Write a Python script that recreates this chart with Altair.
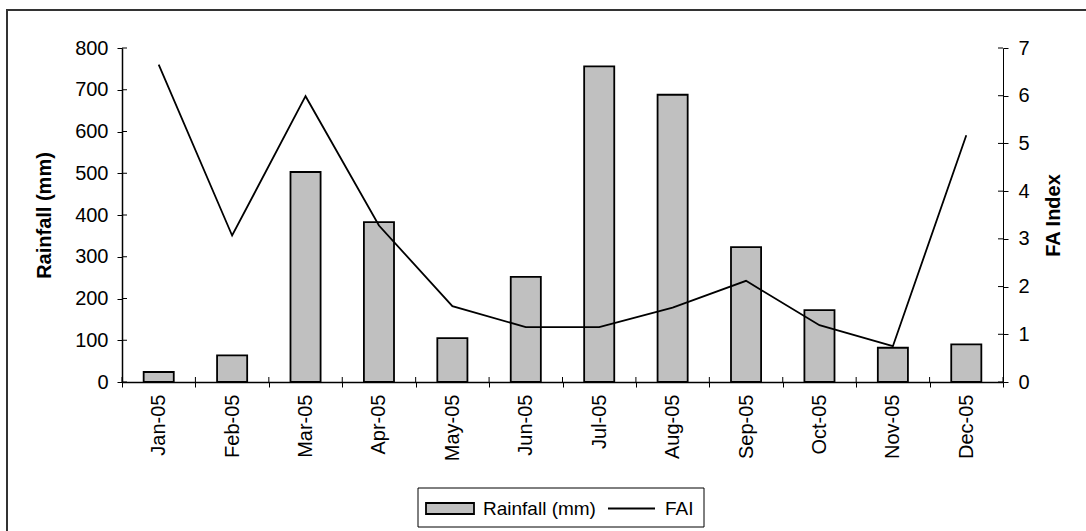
import altair as alt
import pandas as pd

months = ["Jan-05", "Feb-05", "Mar-05", "Apr-05", "May-05", "Jun-05",
          "Jul-05", "Aug-05", "Sep-05", "Oct-05", "Nov-05", "Dec-05"]
rainfall = [24, 64, 503, 383, 105, 252, 756, 688, 323, 172, 82, 90]
fai = [6.65, 3.07, 5.99, 3.28, 1.59, 1.15, 1.15, 1.56, 2.12, 1.19, 0.75, 5.17]
left_ticks = list(range(0, 801, 100))
right_ticks = list(range(0, 8))
series = ["Rainfall (mm)", "FAI"]

df = pd.DataFrame({"month": months, "rain": rainfall, "fai": fai})
df_bar = df.assign(s=series[0])
df_line = df.assign(s=series[1])
df_lt = pd.DataFrame({"rain": left_ticks})
df_rt = pd.DataFrame({"fai": right_ticks})
df_end = df.iloc[-1:]

FONT = "Liberation Sans"
W, H = 881, 334

x_scale = alt.Scale(paddingInner=0, paddingOuter=0)
x_axis = alt.Axis(
    title=None, labelAngle=-90, labelFontSize=20, labelFont=FONT,
    labelColor="black", labelPadding=7, tickBand="extent", tickSize=5,
    tickColor="black", domainColor="black", domainWidth=1.5, tickWidth=1,
    grid=False, labelBound=False, labelOverlap=False,
)
left_y_scale = alt.Scale(domain=[0, 800], nice=False)
right_y_scale = alt.Scale(domain=[0, 7], nice=False)
left_axis = alt.Axis(
    values=left_ticks, title="Rainfall (mm)", titleFontSize=20,
    titleFont=FONT, titleFontWeight="bold", titleColor="black",
    titlePadding=20, labelFontSize=20, labelFont=FONT,
    labelColor="black", labelPadding=9, tickSize=5, tickColor="black",
    domainColor="black", domainWidth=1.5, grid=False,
)
right_axis = alt.Axis(
    orient="right", values=right_ticks, title="FA Index",
    titleFontSize=20, titleFont=FONT, titleFontWeight="bold",
    titleColor="black", titleAngle=270, titleBaseline="top",
    titlePadding=14, labelFontSize=20, labelFont=FONT,
    labelColor="black", labelPadding=10, tickSize=5,
    tickColor="black", domainColor="black", domainWidth=1,
    grid=False,
)

x_enc = alt.X("month:N", sort=months, scale=x_scale, axis=x_axis)

bars = alt.Chart(df_bar).mark_bar(
    width=alt.RelativeBandSize(0.41), stroke="black", strokeWidth=1.8
).encode(
    x=x_enc,
    y=alt.Y("rain:Q", scale=left_y_scale, axis=left_axis),
    fill=alt.Fill(
        "s:N",
        scale=alt.Scale(domain=[series[0]], range=["#c0c0c0"]),
        legend=alt.Legend(
            orient="none", legendX=303, legendY=435.5, title=None,
            labelFontSize=19, labelFont=FONT, labelColor="black",
            symbolType="M-1,-0.23H1V0.23H-1Z", symbolSize=2304,
            symbolStrokeColor="black", symbolStrokeWidth=1.8,
            symbolFillColor="#c0c0c0", padding=0, labelOffset=8,
        ),
    ),
)

# inner halves of the crossing ticks
lticks = alt.Chart(df_lt).mark_rule(color="black", strokeWidth=1).encode(
    y=alt.Y("rain:Q", scale=left_y_scale, axis=left_axis),
    x=alt.value(0), x2=alt.value(5),
)
xticks = alt.Chart(df).mark_rule(color="black", strokeWidth=1).encode(
    x=alt.X("month:N", sort=months, scale=x_scale, bandPosition=0, axis=x_axis),
    y=alt.value(H - 5), y2=alt.value(H),
)
xtick_end = alt.Chart(df_end).mark_rule(color="black", strokeWidth=1).encode(
    x=alt.X("month:N", sort=months, scale=x_scale, bandPosition=1, axis=x_axis),
    y=alt.value(H - 5), y2=alt.value(H),
)

frame = alt.Chart(df_end).mark_rect(
    fill="transparent", stroke="#333333", strokeWidth=2
).encode(
    x=alt.value(-115), x2=alt.value(1200), y=alt.value(-38), y2=alt.value(700)
)
legend_box = alt.Chart(df_end).mark_rect(
    fill="transparent", stroke="black", strokeWidth=1
).encode(
    x=alt.value(296), x2=alt.value(582), y=alt.value(440), y2=alt.value(479)
)

line = alt.Chart(df_line).mark_line(strokeWidth=1.8).encode(
    x=x_enc,
    y=alt.Y("fai:Q", scale=right_y_scale, axis=right_axis),
    stroke=alt.Stroke(
        "s:N",
        scale=alt.Scale(domain=[series[1]], range=["black"]),
        legend=alt.Legend(
            orient="none", legendX=485, legendY=436, title=None,
            labelFontSize=19, labelFont=FONT, labelColor="black",
            symbolType="stroke", symbolSize=2209, symbolStrokeWidth=1.8,
            symbolStrokeColor="black", padding=0, labelOffset=9,
        ),
    ),
)
rticks = alt.Chart(df_rt).mark_rule(color="black", strokeWidth=1).encode(
    y=alt.Y("fai:Q", scale=right_y_scale, axis=right_axis),
    x=alt.value(W - 5), x2=alt.value(W),
)

left_group = alt.layer(frame, legend_box, bars, lticks, xticks, xtick_end)
right_group = alt.layer(line, rticks)

chart = alt.layer(left_group, right_group).resolve_scale(
    y="independent"
).properties(
    width=W, height=H,
    autosize=alt.AutoSizeParams(type="none"),
    padding={"left": 122, "top": 48, "right": 83, "bottom": 149},
    background="white",
).configure_view(stroke=None)

chart.save("out.html", embed_options={"renderer": "svg", "actions": False})
